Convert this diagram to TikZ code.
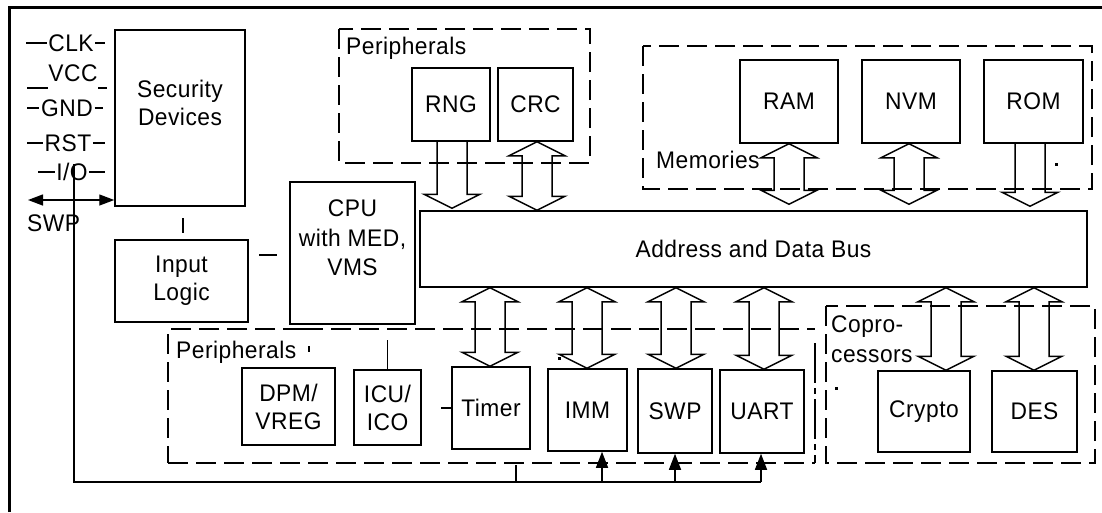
\documentclass[tikz,border=0pt]{standalone}
\usepackage{fontspec}
\setmainfont{Liberation Sans}[FakeStretch=0.95, LetterSpace=2]
\usetikzlibrary{arrows.meta,calc}
\newcommand\dblarr[3]{\draw[barrow] let \p1=(#2), \p2=(#3) in
 (#1pt,\y1) -- (#1pt+28pt,\y1-14pt) -- (#1pt+15pt,\y1-14pt) -- (#1pt+15pt,\y2+14pt) -- (#1pt+28pt,\y2+14pt) -- (#1pt,\y2) -- (#1pt-28pt,\y2+14pt) -- (#1pt-15pt,\y2+14pt) -- (#1pt-15pt,\y1-14pt) -- (#1pt-28pt,\y1-14pt) -- cycle;}
\newcommand\downarr[3]{\draw[barrow] let \p1=(#2), \p2=(#3) in
 (#1pt-15pt,\y1) -- (#1pt-15pt,\y2+14pt) -- (#1pt-28pt,\y2+14pt) -- (#1pt,\y2) -- (#1pt+28pt,\y2+14pt) -- (#1pt+15pt,\y2+14pt) -- (#1pt+15pt,\y1);}
\begin{document}
\begin{tikzpicture}[x=1pt,y=-1pt,
  every node/.style={font=\fontsize{24}{28}\selectfont, inner sep=0pt},
  box/.style={draw, line width=1.5pt, align=center},
  grp/.style={line width=1.3pt, dash pattern=on 20pt off 8pt},
  wire/.style={line width=1.4pt},
  barrow/.style={line width=1.5pt, line join=miter},
  uparr/.style={wire, -{Triangle[length=16pt,width=12pt]}},
  pinl/.style={inner sep=1.5pt},
  dot/.style={fill=black}]
\useasboundingbox (0,0) rectangle (1102,512);
% outer frame
\draw[line width=3pt] (9.5,512) -- (9.5,7.5) -- (1102,7.5);

% group boxes
\draw[grp] (339,29) rectangle (590,163);
\draw[grp] (643,46) rectangle (1092,189);
\draw[grp] (826,306) rectangle (1095,463);
\draw[grp] (303,329) -- (815,329);
\draw[grp, line width=2.6pt] (303,329) -- (168,329) -- (168,463);
\draw[grp] (168,463) -- (815,463);
\draw[line width=2.6pt, dash pattern=on 40pt off 5pt on 6pt off 5pt] (815,343) -- (815,463);

% group labels
\node[anchor=west] (perTopLbl) at (346,48) {Peripherals};
\node[anchor=west] (memLbl) at (656,160) {Memories};
\node[anchor=west] (perBotLbl) at (176,352) {Peripherals};
\node[anchor=west, align=left, font=\fontsize{24}{30}\selectfont] (coproLbl) at (831,339) {Copro-\\cessors};

% boxes
\node[box, minimum width=130pt, minimum height=176pt] (sec) at (180,118) {};
\node[align=center] (secTxt) at (180,103) {Security\\Devices};
\node[box, minimum width=133pt, minimum height=82pt] (inlog) at (181.5,281) {Input\\Logic};
\node[box, minimum width=125pt, minimum height=142pt] (cpu) at (352.5,253) {};
\node[align=center, font=\fontsize{24}{29.5}\selectfont] (cpuTxt) at (352.5,238) {CPU\\with MED,\\VMS};
\node[box, minimum width=78pt, minimum height=73pt] (rng) at (451,104.5) {RNG};
\node[box, minimum width=75pt, minimum height=73pt] (crc) at (535.5,104.5) {CRC};
\node[box, minimum width=98pt, minimum height=83pt] (ram) at (789,101.5) {RAM};
\node[box, minimum width=98pt, minimum height=83pt] (nvm) at (911,101.5) {NVM};
\node[box, minimum width=99pt, minimum height=83pt] (rom) at (1033.5,101.5) {ROM};
\node[box, minimum width=667pt, minimum height=76pt] (bus) at (753.5,249) {Address and Data Bus};
\node[box, minimum width=93pt, minimum height=77pt] (dpm) at (288.5,406.5) {DPM/\\VREG};
\node[box, minimum width=67pt, minimum height=75pt] (icu) at (387.5,407.5) {ICU/\\ICO};
\node[box, minimum width=78pt, minimum height=82pt] (timer) at (491,408) {Timer};
\node[box, minimum width=79pt, minimum height=82pt] (imm) at (587.5,410) {IMM};
\node[box, minimum width=74pt, minimum height=84pt] (swp) at (675,411) {SWP};
\node[box, minimum width=84pt, minimum height=83pt] (uart) at (762,411.5) {UART};
\node[box, minimum width=92pt, minimum height=81pt] (crypto) at (924,411.5) {Crypto};
\node[box, minimum width=85pt, minimum height=81pt] (des) at (1034.5,411.5) {DES};

% block arrows
\downarr{452}{rng.south}{[yshift=2pt]bus.north}
\dblarr{537}{crc.south}{bus.north}
\dblarr{789}{ram.south}{[yshift=6pt]bus.north}
\dblarr{909}{nvm.south}{[yshift=6pt]bus.north}
\downarr{1030}{rom.south}{[yshift=4pt]bus.north}
\dblarr{490}{bus.south}{timer.north}
\dblarr{587}{bus.south}{imm.north}
\dblarr{676}{bus.south}{swp.north}
\dblarr{764}{bus.south}{uart.north}
\dblarr{946}{bus.south}{crypto.north}
\dblarr{1034}{bus.south}{des.north}

% pins
\node[pinl] (clk) at (71,43) {CLK};
\coordinate (clkA) at (26,43); \coordinate (clkB) at (105,43);
\draw[wire] (clkA) -- (clk.west); \draw[wire] (clk.east) -- (clkB);
\node[pinl] (vcc) at (73,73) {VCC};
\coordinate (vccA) at (27,88); \coordinate (vccB) at (48,88);
\coordinate (vccC) at (98,88); \coordinate (vccD) at (107,88);
\draw[wire] (vccA) -- (vccB); \draw[wire] (vccC) -- (vccD);
\node[pinl] (gnd) at (67,108) {GND};
\coordinate (gndA) at (27,108); \coordinate (gndB) at (103,108);
\draw[wire] (gndA) -- (gnd.west); \draw[wire] (gnd.east) -- (gndB);
\node[pinl] (rst) at (68,143) {RST};
\coordinate (rstA) at (27,143); \coordinate (rstB) at (105,143);
\draw[wire] (rstA) -- (rst.west); \draw[wire] (rst.east) -- (rstB);
\node[pinl] (io) at (72,172) {I/O};
\coordinate (ioA) at (38,172); \coordinate (ioB) at (105,172);
\draw[wire] (ioA) -- (io.west); \draw[wire] (io.east) -- (ioB);

% SWP arrow
\coordinate (swpA) at (28,200);
\draw[wire, {Triangle[length=15pt,width=11pt]}-{Triangle[length=15pt,width=11pt]}] (swpA) -- (swpA -| sec.west);
\node[anchor=west] (swpLbl) at (27,223) {SWP};

% route from I/O to IMM, SWP, UART
\coordinate (ioTop) at (74,164);
\coordinate (rc) at (74,482);
\coordinate (rEnd) at (761,482);
\draw[wire] (ioTop) -- (rc) -- (rEnd);
\coordinate (tb) at (516,482); \coordinate (tbTop) at (516,465);
\draw[wire] (tbTop) -- (tb);
\coordinate (b1) at (602,482); \draw[uparr] (b1) -- (b1 |- imm.south);
\coordinate (b2) at (675,482); \draw[uparr] (b2) -- (b2 |- swp.south);
\draw[uparr] (rEnd) -- (rEnd |- uart.south);

% short links
\coordinate (s1) at (183,218); \draw[wire] (s1) -- ++(0,15);
\coordinate (s2) at (259,255); \coordinate (s2b) at (277,255); \draw[wire] (s2) -- (s2b);
\coordinate (s3) at (387.5,340); \draw[wire] (s3) -- (icu.north);
\coordinate (s4) at (441,408); \draw[wire] (s4) -- (timer.west);

% small marks
\coordinate (t1) at (309,346); \draw[wire] (t1) -- ++(0,6);
\fill[dot] (558,357) rectangle ++(2.5,2.5);
\fill[dot] (835,387) rectangle ++(2.5,2.5);
\fill[dot] (1055,163) rectangle ++(2.5,2.5);
\end{tikzpicture}
\end{document}
